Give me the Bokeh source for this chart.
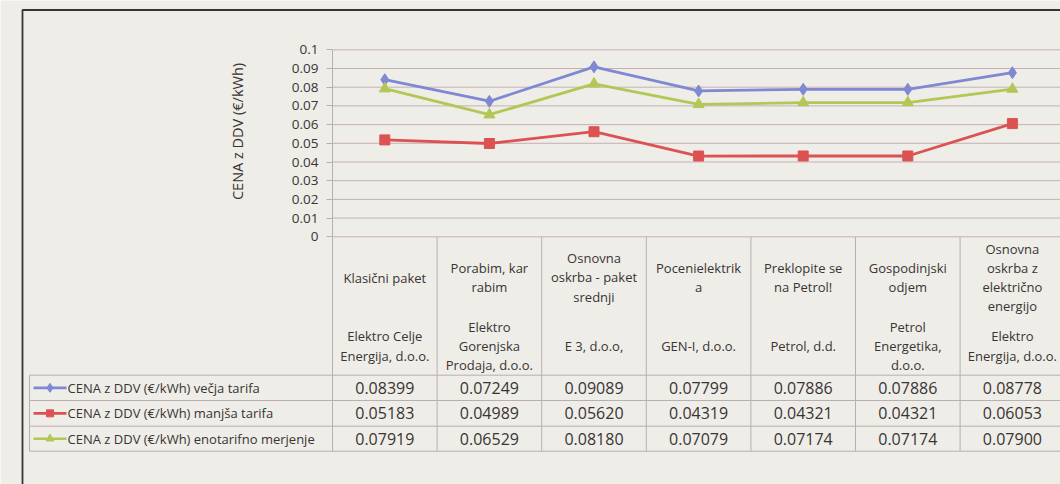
import numpy as np
from bokeh.plotting import figure
from bokeh.models import Range1d, LinearAxis, FixedTicker, CustomJSTickFormatter
from bokeh.core.properties import value
from bokeh.embed import file_html
from bokeh.resources import INLINE

# ---------------- data ----------------
names = ["Klasični paket", "Porabim, kar\nrabim", "Osnovna\noskrba - paket\nsrednji",
         "Pocenielektrik\na", "Preklopite se\nna Petrol!", "Gospodinjski\nodjem",
         "Osnovna\noskrba z\nelektrično\nenergijo"]
companies = ["Elektro Celje\nEnergija, d.o.o.", "Elektro\nGorenjska\nProdaja, d.o.o.",
             "E 3, d.o.o,", "GEN-I, d.o.o.", "Petrol, d.d.", "Petrol\nEnergetika,\nd.o.o.",
             "Elektro\nEnergija, d.o.o."]
vecja = [0.08399, 0.07249, 0.09089, 0.07799, 0.07886, 0.07886, 0.08778]
manjsa = [0.05183, 0.04989, 0.05620, 0.04319, 0.04321, 0.04321, 0.06053]
enotarifno = [0.07919, 0.06529, 0.08180, 0.07079, 0.07174, 0.07174, 0.07900]
series_labels = ["CENA z DDV (€/kWh) večja tarifa",
                 "CENA z DDV (€/kWh) manjša tarifa",
                 "CENA z DDV (€/kWh) enotarifno merjenje"]
y_title = "CENA z DDV (€/kWh)"
yticks = [0.0, 0.01, 0.02, 0.03, 0.04, 0.05, 0.06, 0.07, 0.08, 0.09, 0.1]

# ---------------- style / layout ----------------
W, H = 1060, 484
BG = "#eeede8"
FONT = "Open Sans"
TXT = "#3a3434"
GRID = "#c6b0b4"
TLINE = "#bcaeb0"
colors = ["#7f88d2", "#dc5252", "#b3c756"]
markers = ["diamond", "square", "triangle"]
msizes = [12, 10, 11]

x0_px, col_w = 384.3, 104.6     # centre of first category, column width (px)
y0_px, y_scale = 236.3, 1870.0  # pixel row of value 0, px per unit
row_lines = [374.7, 400.0, 425.7, 450.7]
row_centres = [(row_lines[i] + row_lines[i + 1]) / 2 for i in range(3)]

idx = list(range(len(names)))

p = figure(width=W, height=H,
           x_range=Range1d(-x0_px / col_w, (W - x0_px) / col_w),
           y_range=Range1d(-(H - y0_px) / y_scale, y0_px / y_scale),
           x_axis_type=None, y_axis_type=None,
           output_backend="svg", toolbar_location=None, min_border=0,
           background_fill_color=BG, border_fill_color=BG, outline_line_color=None)
p.extra_x_ranges = {"px": Range1d(0, W)}
p.extra_y_ranges = {"px": Range1d(H, 0)}

# y axis at the left edge of the plot area
yaxis = LinearAxis(fixed_location=-0.5, bounds=(0, 0.1),
                   ticker=FixedTicker(ticks=yticks),
                   formatter=CustomJSTickFormatter(code="return String(Math.round(tick*100)/100)"))
yaxis.axis_line_color = TLINE
yaxis.major_tick_line_color = TLINE
yaxis.major_tick_out = 6
yaxis.major_tick_in = 0
yaxis.minor_tick_line_color = None
yaxis.major_label_text_font = FONT
yaxis.major_label_text_font_size = "13.5px"
yaxis.major_label_text_color = TXT
yaxis.major_label_standoff = 8
p.add_layout(yaxis, "left")

# horizontal gridlines
p.segment(x0=-0.5, y0=yticks, x1=7.2, y1=yticks, line_color=GRID, line_width=1)

# table vertical lines
col_edges = [i - 0.5 for i in range(len(names) + 1)]
p.segment(x0=col_edges, x1=col_edges, y0=y0_px, y1=row_lines[-1],
          y_range_name="px", line_color=TLINE, line_width=1)
# table horizontal lines + legend column edge
p.segment(x0=29, x1=W + 10, y0=row_lines, y1=row_lines,
          x_range_name="px", y_range_name="px", line_color=TLINE, line_width=1)
p.segment(x0=29, x1=29, y0=row_lines[0], y1=row_lines[-1],
          x_range_name="px", y_range_name="px", line_color=TLINE, line_width=1)

# outer border
p.line(x=[22, 22, W + 10], y=[H + 5, 9.5, 9.5], x_range_name="px", y_range_name="px",
       line_color="#3a3333", line_width=1.8)

# series
for vals, c, m, s in zip([vecja, manjsa, enotarifno], colors, markers, msizes):
    p.line(x=idx, y=vals, line_color=c, line_width=2.8)
    p.scatter(x=idx, y=vals, marker=m, size=s, fill_color=c, line_color=c)

# legend keys in table
for rc, c, m, s, lab in zip(row_centres, colors, markers, msizes, series_labels):
    p.segment(x0=33, x1=66, y0=rc, y1=rc, x_range_name="px", y_range_name="px",
              line_color=c, line_width=2.6)
    p.scatter(x=[49.5], y=[rc], marker=m, size=s - 3, fill_color=c, line_color=c,
              x_range_name="px", y_range_name="px")
    p.text(x=[67], y=[rc], text=[lab], x_range_name="px", y_range_name="px",
           text_font=value(FONT), text_font_size="13px", text_color=TXT,
           text_align="left", text_baseline="middle")

# table values
for rc, vals in zip(row_centres, [vecja, manjsa, enotarifno]):
    p.text(x=idx, y=[rc] * len(idx), text=[f"{v:.5f}" for v in vals], y_range_name="px",
           text_font=value(FONT), text_font_size="16px", text_color=TXT,
           text_align="center", text_baseline="middle")

# table header (category names / companies)
p.text(x=idx, y=[277] * len(idx), text=names, y_range_name="px",
       text_font=value(FONT), text_font_size="13px", text_color=TXT,
       text_align="center", text_baseline="middle", text_line_height=1.07)
p.text(x=idx, y=[345.5] * len(idx), text=companies, y_range_name="px",
       text_font=value(FONT), text_font_size="13px", text_color=TXT,
       text_align="center", text_baseline="middle", text_line_height=1.07)

# y axis title
p.text(x=[237], y=[131], text=[y_title], angle=np.pi / 2,
       x_range_name="px", y_range_name="px",
       text_font=value(FONT), text_font_size="14.5px", text_color=TXT,
       text_align="center", text_baseline="middle")

open("out.html", "w").write(file_html(p, INLINE))
